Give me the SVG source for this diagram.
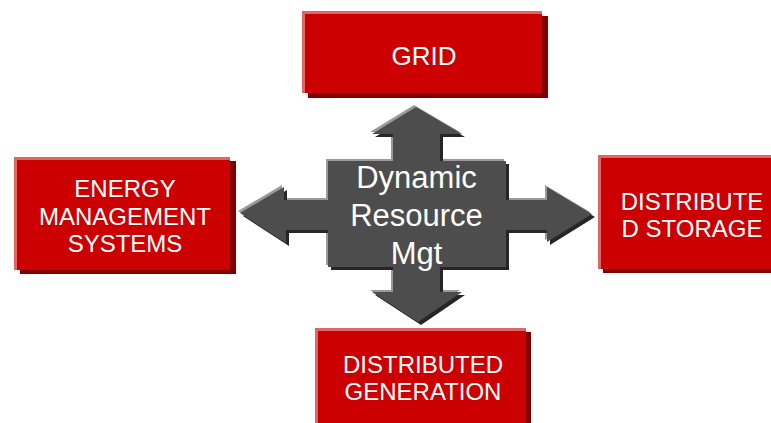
<svg xmlns="http://www.w3.org/2000/svg" width="771" height="423" viewBox="0 0 771 423">
<style>
.face{fill:#cc0000}
.shadow{fill:#800000}
.hl{fill:none;stroke:#e06666;stroke-width:3}
.lbl{font-family:"Liberation Sans",Arial,sans-serif;font-size:24px;fill:#ffffff;text-anchor:middle}
.big{font-size:26px}
.ctr{font-family:"Liberation Sans",Arial,sans-serif;font-size:31px;fill:#ffffff;text-anchor:middle}
</style>
<defs>
<polygon id="cross" points="416,107 462,134 440,134 440,161 506,161 506,200 547,200 547,187 592,214 547,242 547,230 506,230 506,267 440,267 440,292 462,292 418,322 372,292 393,292 393,267 328,267 328,230 286,230 286,243 240,213 284,187 284,200 328,200 328,161 393,161 393,134 372,134"/>
</defs>
<rect width="771" height="423" fill="#ffffff"/>
<g id="connectors">
<use href="#cross" transform="translate(-2,-2)" fill="#9a9a9a"/>
<use href="#cross" transform="translate(3,3)" fill="#262626"/>
<use href="#cross" fill="#4d4d4d"/>
</g>
<g id="center">
<text class="ctr" x="416.5" y="188">Dynamic</text>
<text class="ctr" x="416.5" y="226">Resource</text>
<text class="ctr" x="416.5" y="264">Mgt</text>
</g>
<g id="grid">
<rect class="shadow" x="308" y="16" width="240" height="82"/>
<rect class="face" x="302" y="11" width="240" height="82"/>
<path class="hl" d="M303.5,93 V12.5 H542"/>
<text class="lbl big" x="424" y="65">GRID</text>
</g>
<g id="ems">
<rect class="shadow" x="20" y="161" width="216" height="113"/>
<rect class="face" x="14" y="157" width="216" height="113"/>
<path class="hl" d="M15.5,270 V158.5 H230"/>
<text class="lbl" x="125" y="197">ENERGY</text>
<text class="lbl" x="125" y="224.5">MANAGEMENT</text>
<text class="lbl" x="125" y="252">SYSTEMS</text>
</g>
<g id="storage">
<rect class="shadow" x="603" y="159" width="188" height="114"/>
<rect class="face" x="598" y="155" width="188" height="114"/>
<path class="hl" d="M599.5,269 V156.5 H786"/>
<text class="lbl" x="692" y="210">DISTRIBUTE</text>
<text class="lbl" x="692" y="237">D STORAGE</text>
</g>
<g id="generation">
<rect class="shadow" x="320" y="332" width="211" height="110"/>
<rect class="face" x="315" y="328" width="211" height="110"/>
<path class="hl" d="M316.5,438 V329.5 H526"/>
<text class="lbl" x="423" y="373">DISTRIBUTED</text>
<text class="lbl" x="423" y="400">GENERATION</text>
</g>
</svg>
